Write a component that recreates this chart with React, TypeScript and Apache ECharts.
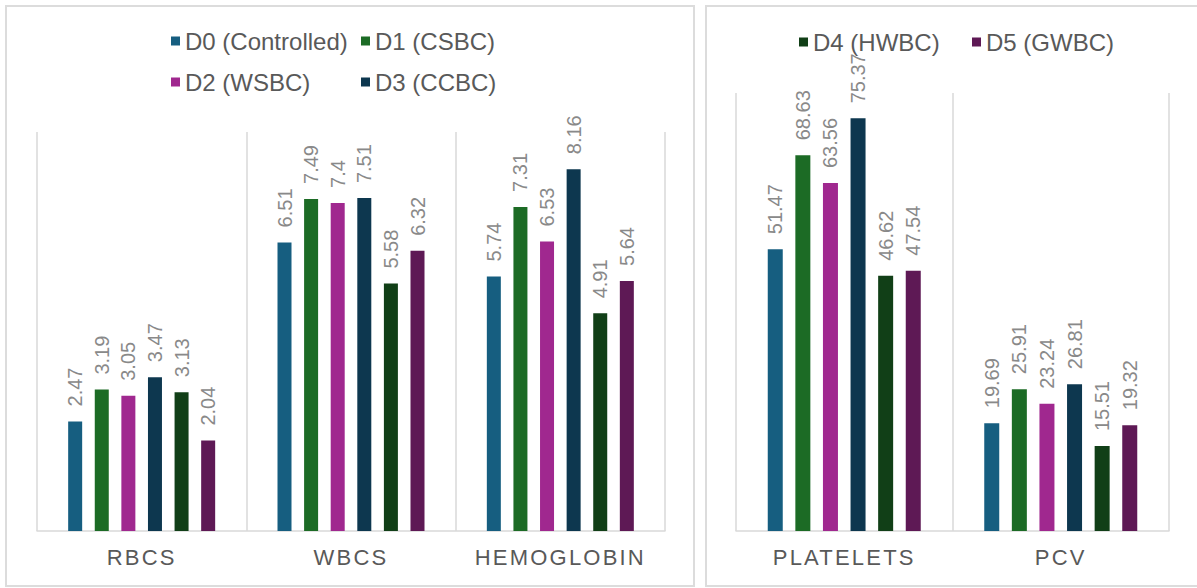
import React, { useEffect, useRef } from "react";
import * as echarts from "echarts";

// Blood parameters, split across two panels by scale
const leftCategories = ["RBCS", "WBCS", "HEMOGLOBIN"];
const rightCategories = ["PLATELETS", "PCV"];

const groupNames = [
  "D0 (Controlled)",
  "D1 (CSBC)",
  "D2 (WSBC)",
  "D3 (CCBC)",
  "D4 (HWBC)",
  "D5 (GWBC)",
];

// Values per group: RBCS, WBCS, HEMOGLOBIN, PLATELETS, PCV
const d0Values = [2.47, 6.51, 5.74, 51.47, 19.69];
const d1Values = [3.19, 7.49, 7.31, 68.63, 25.91];
const d2Values = [3.05, 7.4, 6.53, 63.56, 23.24];
const d3Values = [3.47, 7.51, 8.16, 75.37, 26.81];
const d4Values = [3.13, 5.58, 4.91, 46.62, 15.51];
const d5Values = [2.04, 6.32, 5.64, 47.54, 19.32];

const groupValues = [d0Values, d1Values, d2Values, d3Values, d4Values, d5Values];
const groupColors = ["#165e80", "#1c6b25", "#a0288f", "#0d374f", "#113f17", "#5e1955"];

const FONT = "'Liberation Sans', Arial, sans-serif";
const GRID_LINE = "#d9d9d9";

export default function App() {
  const ref = useRef<HTMLDivElement>(null);

  useEffect(() => {
    if (!ref.current) return;
    const chart = echarts.init(ref.current, undefined, { renderer: "svg" });

    const labelStyle = {
      show: true,
      position: "top" as const,
      rotate: 90,
      align: "left" as const,
      verticalAlign: "middle" as const,
      distance: 15,
      color: "#898989",
      fontSize: 20,
      fontFamily: FONT,
    };

    const makeSeries = (panel: number) =>
      groupNames.map((name, i) => ({
        name,
        type: "bar" as const,
        xAxisIndex: panel,
        yAxisIndex: panel,
        barWidth: panel === 0 ? 14 : 15,
        barGap: panel === 0 ? "90%" : "84%",
        itemStyle: { color: groupColors[i] },
        label: labelStyle,
        data: panel === 0 ? groupValues[i].slice(0, 3) : groupValues[i].slice(3),
      }));

    const legendItem = (name: string, left: number, top: number) => ({
      data: [name],
      left,
      top,
      padding: 0,
      itemWidth: 9,
      itemHeight: 9,
      icon: "rect",
      textStyle: { fontSize: 24, color: "#595959", fontFamily: FONT },
    });

    const xAxisBase = {
      type: "category" as const,
      axisTick: { show: false },
      axisLine: { lineStyle: { color: GRID_LINE, width: 1.5 } },
      splitLine: { show: true, interval: 0, lineStyle: { color: GRID_LINE, width: 1.5 } },
      axisLabel: {
        margin: 15,
        fontSize: 22,
        color: "#595959",
        fontFamily: FONT,
        interval: 0,
      },
    };

    chart.setOption({
      animation: false,
      backgroundColor: "#ffffff",
      textStyle: { fontFamily: FONT },
      legend: [
        legendItem(groupNames[0], 171, 29),
        legendItem(groupNames[1], 361, 29),
        legendItem(groupNames[2], 171, 70),
        legendItem(groupNames[3], 361, 70),
        legendItem(groupNames[4], 799, 30),
        legendItem(groupNames[5], 972, 30),
      ],
      grid: [
        { left: 37, top: 132, width: 628, bottom: 57 },
        { left: 736, top: 93, width: 433, bottom: 57 },
      ],
      xAxis: [
        { ...xAxisBase, gridIndex: 0, data: leftCategories },
        { ...xAxisBase, gridIndex: 1, data: rightCategories },
      ],
      yAxis: [
        { type: "value", gridIndex: 0, min: 0, max: 9, show: false, splitLine: { show: false } },
        { type: "value", gridIndex: 1, min: 0, max: 80, show: false, splitLine: { show: false } },
      ],
      graphic: [
        {
          type: "rect",
          silent: true,
          z: -1,
          shape: { x: 6, y: 6, width: 688, height: 580 },
          style: { fill: "none", stroke: "#dcdcdc", lineWidth: 2 },
        },
        {
          type: "rect",
          silent: true,
          z: -1,
          shape: { x: 706, y: 6, width: 510, height: 580 },
          style: { fill: "none", stroke: "#dcdcdc", lineWidth: 2 },
        },
      ],
      series: [...makeSeries(0), ...makeSeries(1)],
    });

    // Letter spacing on the category names
    const spaceLabels = () => {
      const cats = new Set([...leftCategories, ...rightCategories]);
      ref.current?.querySelectorAll("text").forEach((t) => {
        if (cats.has((t.textContent || "").trim())) {
          (t as SVGTextElement).style.letterSpacing = "2.2px";
        }
      });
    };
    spaceLabels();
    chart.on("finished", spaceLabels);

    return () => {
      chart.dispose();
    };
  }, []);

  return (
    <div
      ref={ref}
      style={{ position: "absolute", left: 0, top: 0, width: 1197, height: 588, background: "#fff" }}
    />
  );
}
